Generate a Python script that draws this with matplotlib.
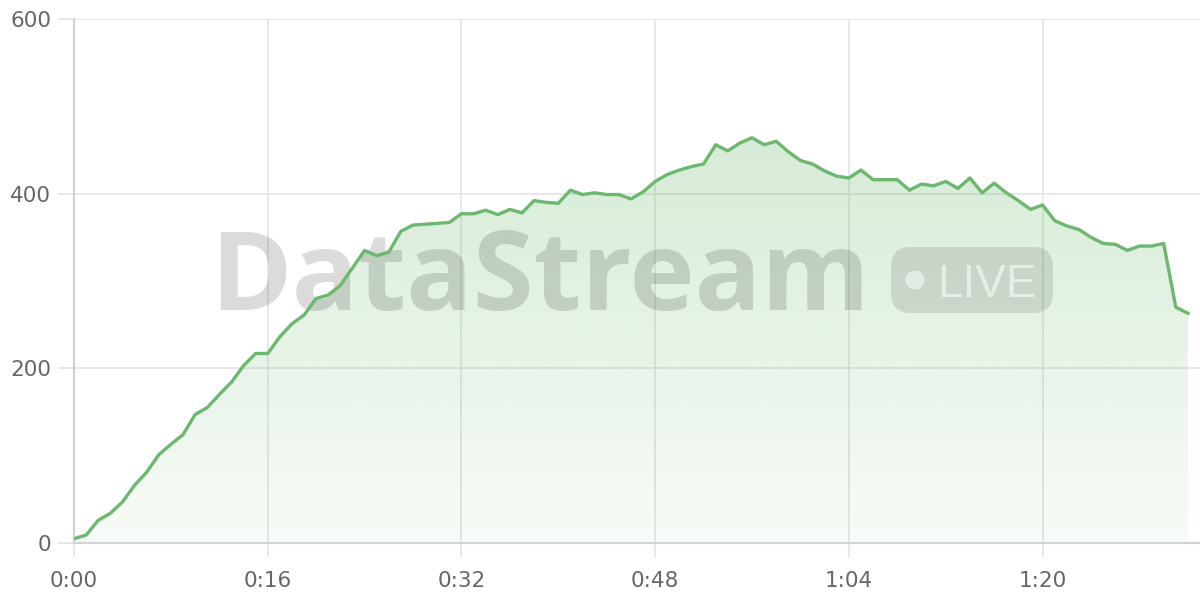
import matplotlib
matplotlib.use('Agg')
import matplotlib.pyplot as plt
import numpy as np
from matplotlib.colors import to_rgb
from matplotlib.patches import FancyBboxPatch, Circle
from matplotlib.ticker import FuncFormatter, FixedLocator
import matplotlib.transforms as mtransforms

# seconds since start, one sample per second
seconds = list(range(93))
viewers = [5, 9, 26, 34, 47, 66, 81, 101, 113, 124,
           147, 155, 170, 184, 203, 217, 217, 236, 251, 261,
           280, 284, 295, 315, 335, 329, 333, 357, 364, 365,
           366, 367, 377, 377, 381, 376, 382, 378, 392, 390,
           389, 404, 399, 401, 399, 399, 394, 402, 414, 422,
           427, 431, 434, 456, 449, 458, 464, 456, 460, 448,
           438, 434, 426, 420, 418, 427, 416, 416, 416, 404,
           411, 409, 414, 406, 418, 401, 412, 401, 392, 382,
           387, 369, 363, 359, 350, 343, 342, 335, 340, 340,
           343, 270, 263]
x_ticks = [0, 16, 32, 48, 64, 80]
y_ticks = [0, 200, 400, 600]

LINE = '#6db86f'
GRID = '#e8e8e8'
AXIS = '#d2d2d2'
LABEL = '#666666'


def fmt_time(v, pos=None):
    v = int(round(v))
    return f'{v // 60}:{v % 60:02d}'


fig = plt.figure(figsize=(12, 6), dpi=100)
ax = fig.add_axes([74 / 1200, 57 / 600, 1126 / 1200, 524 / 600])

t = np.array(seconds)
v = np.array(viewers)

# gradient fill under the line
fill = ax.fill_between(t, v, 0, color='none', lw=0)
path = fill.get_paths()[0]
grad = np.linspace(0, 1, 256).reshape(-1, 1)
rgba = np.zeros((256, 1, 4))
rgba[..., :3] = to_rgb(LINE)
rgba[..., 3] = (0.05 + 0.3 * grad)
img = ax.imshow(rgba, extent=[0, 93, 0, 600], origin='lower', aspect='auto', zorder=1)
img.set_clip_path(path, transform=ax.transData)

ax.plot(t, v, color=LINE, lw=2.4, zorder=4, solid_joinstyle='round')

ax.set_xlim(0, 93)
ax.set_ylim(0, 600)

ax.xaxis.set_major_locator(FixedLocator(x_ticks))
ax.xaxis.set_major_formatter(FuncFormatter(fmt_time))
ax.set_yticks(y_ticks)

ax.set_axisbelow(True)
ax.grid(True, color=GRID, lw=1.4, zorder=0)
for side in ['top', 'right']:
    ax.spines[side].set_visible(False)
for side in ['left', 'bottom']:
    ax.spines[side].set_color(AXIS)
    ax.spines[side].set_linewidth(1.6)

ax.tick_params(axis='y', length=11.5, width=1.4, color=GRID, pad=5,
               labelsize=15.5, labelcolor=LABEL)
ax.tick_params(axis='x', length=10, width=1.4, color=GRID, pad=10,
               labelsize=15.5, labelcolor=LABEL)

# watermark, placed in pixel units
px = mtransforms.Affine2D().scale(1 / fig.dpi) + fig.dpi_scale_trans
ax.text(210, 290, 'DataStream', transform=px, family='Open Sans', weight='bold',
        fontsize=79.5, color='black', alpha=0.14, va='baseline', ha='left',
        zorder=3, clip_on=False)
pill = FancyBboxPatch((891 + 20, 287 + 20), 162 - 40, 66 - 40,
                      boxstyle='round,pad=20', transform=px,
                      fc='black', ec='none', alpha=0.11, zorder=3, clip_on=False)
ax.add_patch(pill)
ax.add_patch(Circle((915, 320), 9.5, transform=px, fc='white', ec='none',
                    alpha=0.5, zorder=3, clip_on=False))
ax.text(937, 303, 'LIVE', transform=px, family='Liberation Sans',
        fontsize=33, color='white', alpha=0.55, va='baseline', ha='left',
        zorder=3, clip_on=False)

fig.savefig('out.png', dpi=100)
